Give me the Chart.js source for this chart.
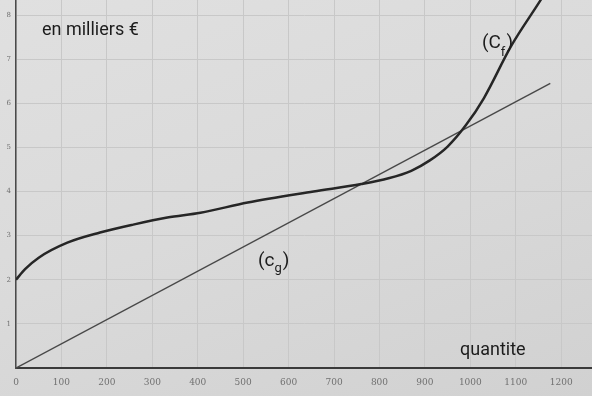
<!DOCTYPE html>
<html>
<head>
<meta charset="utf-8">
<script src="https://cdn.jsdelivr.net/npm/chart.js@4"></script>
<style>
  html, body { margin: 0; padding: 0; }
  body { width: 592px; height: 396px; overflow: hidden;
    background: linear-gradient(160deg, #e0e0e0 0%, #dadada 50%, #d1d1d1 100%); }
  /* canvas is a little larger so the plot area reaches the top and right edges */
  canvas { display: block; margin-top: -10px; }
</style>
</head>
<body>
<canvas id="chart" width="602" height="406"></canvas>
<script>
// quantities and costs (thousands of euros)
const cfQuantity = [0, 20, 50, 113, 185, 258, 333, 406, 510, 655, 760, 820, 870, 910, 950, 990, 1030, 1090, 1156, 1200];
const cfCost = [2.0, 2.24, 2.5, 2.84, 3.07, 3.25, 3.41, 3.52, 3.75, 4.0, 4.17, 4.3, 4.47, 4.7, 5.02, 5.5, 6.12, 7.3, 8.36, 9.1];
const cgQuantity = [0, 1176];
const cgCost = [0, 6.45];
const xTickLabels = ['0', '100', '200', '300', '400', '500', '600', '700', '800', '900', '1000', '1100', '1200'];
const yTickLabels = ['', '1', '2', '3', '4', '5', '6', '7', '8'];

const toPoints = (xs, ys) => xs.map((x, i) => ({ x: x, y: ys[i] }));

// draws the free labels on the paper (canvas is shifted up by 10px)
const labelsPlugin = {
  id: 'labels',
  afterDraw(chart) {
    const ctx = chart.ctx;
    ctx.save();
    ctx.translate(0, 10);
    ctx.fillStyle = '#1c1c1c';
    ctx.textBaseline = 'alphabetic';
    ctx.font = '18px Roboto';
    ctx.fillText('en milliers €', 42, 35);
    ctx.fillText('quantite', 460, 355);

    // (Cf)
    ctx.font = '19px Roboto';
    ctx.fillText('(C', 482, 48);
    let w = ctx.measureText('(C').width;
    ctx.font = '13px Roboto';
    ctx.fillText('f', 482 + w, 56);
    let w2 = ctx.measureText('f').width;
    ctx.font = '19px Roboto';
    ctx.fillText(')', 482 + w + w2 + 1, 48);

    // (cg)
    ctx.font = '19px Roboto';
    ctx.fillText('(c', 258, 266);
    w = ctx.measureText('(c').width;
    ctx.font = '13px Roboto';
    ctx.fillText('g', 258 + w, 272);
    w2 = ctx.measureText('g').width;
    ctx.font = '19px Roboto';
    ctx.fillText(')', 258 + w + w2 + 1, 266);
    ctx.restore();
  }
};

new Chart(document.getElementById('chart'), {
  type: 'line',
  data: {
    datasets: [
      {
        label: 'Cf',
        data: toPoints(cfQuantity, cfCost),
        borderColor: '#262626',
        borderWidth: 2.5,
        pointRadius: 0,
        cubicInterpolationMode: 'monotone'
      },
      {
        label: 'Cg',
        data: toPoints(cgQuantity, cgCost),
        borderColor: '#484848',
        borderWidth: 1.4,
        pointRadius: 0
      }
    ]
  },
  options: {
    responsive: false,
    animation: false,
    layout: { padding: 0 },
    plugins: { legend: { display: false }, tooltip: { enabled: false } },
    scales: {
      x: {
        type: 'linear',
        min: 0,
        max: 1270,
        afterFit: (s) => { s.height = 28; },
        border: { color: '#3a3a3a', width: 2 },
        grid: { color: '#c8c8c8', lineWidth: 1, drawTicks: false },
        ticks: {
          stepSize: 100,
          padding: 9,
          maxRotation: 0,
          autoSkip: false,
          color: '#707070',
          font: { size: 9, family: 'DejaVu Serif' },
          callback: (v) => (v % 100 === 0 && v / 100 < xTickLabels.length) ? xTickLabels[v / 100] : ''
        }
      },
      y: {
        min: 0,
        max: 8.36,
        afterFit: (s) => { s.width = 16; },
        border: { color: '#4a4a4a', width: 1.5 },
        grid: { color: '#c8c8c8', lineWidth: 1, drawTicks: false },
        ticks: {
          stepSize: 1,
          padding: 5,
          color: '#707070',
          font: { size: 7, family: 'DejaVu Serif' },
          callback: (v) => Number.isInteger(v) && v < yTickLabels.length ? yTickLabels[v] : ''
        }
      }
    }
  },
  plugins: [labelsPlugin]
});
</script>
</body>
</html>
